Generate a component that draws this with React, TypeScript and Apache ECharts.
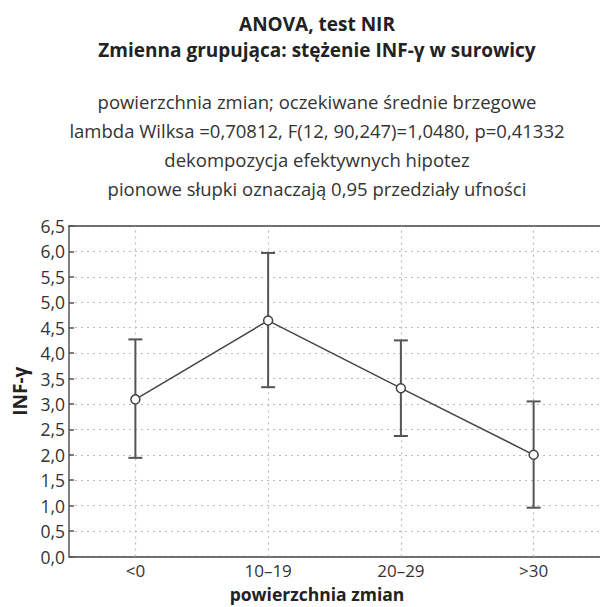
import React, { useEffect, useRef } from "react";
import * as echarts from "echarts";

const categories = ["<0", "10–19", "20–29", ">30"];
const means = [3.09, 4.64, 3.31, 2.0];
const lower = [1.94, 3.33, 2.37, 0.96];
const upper = [4.27, 5.97, 4.25, 3.05];

const titleLines = ["ANOVA, test NIR", "Zmienna grupująca: stężenie INF-γ w surowicy"];
const subtitleLines = [
  "powierzchnia zmian; oczekiwane średnie brzegowe",
  "lambda Wilksa =0,70812, F(12, 90,247)=1,0480, p=0,41332",
  "dekompozycja efektywnych hipotez",
  "pionowe słupki oznaczają 0,95 przedziały ufności",
];
const xAxisName = "powierzchnia zmian";
const yAxisName = "INF-γ";

const FONT = "'Open Sans', 'DejaVu Sans', sans-serif";

export default function App() {
  const ref = useRef<HTMLDivElement>(null);
  useEffect(() => {
    if (!ref.current) return;
    const chart = echarts.init(ref.current, undefined, { renderer: "svg" });
    const errData = lower.map((l, i) => [i, l, upper[i]]);
    chart.setOption({
      animation: false,
      backgroundColor: "#fff",
      textStyle: { fontFamily: FONT },
      title: [
        {
          text: titleLines.join("\n"),
          left: 312,
          top: 6,
          textAlign: "center",
          textStyle: { fontFamily: FONT, fontSize: 19, fontWeight: "bold", color: "#222", lineHeight: 26 },
        },
        {
          text: subtitleLines.join("\n"),
          left: 312,
          top: 82,
          textAlign: "center",
          textStyle: { fontFamily: FONT, fontSize: 18.5, fontWeight: "normal", color: "#333", lineHeight: 29 },
        },
        {
          text: xAxisName,
          left: 317,
          top: 584,
          padding: 0,
          textAlign: "center",
          textStyle: { fontFamily: FONT, fontSize: 17.5, fontWeight: "bold", color: "#222", lineHeight: 20 },
        },
      ],
      grid: { left: 69, top: 226, width: 538, height: 330.5, containLabel: false },
      xAxis: [
        {
          type: "category",
          data: categories,
          position: "bottom",
          boundaryGap: true,
          axisLine: { lineStyle: { color: "#444", width: 1.5 } },
          axisTick: { inside: true, alignWithLabel: true, length: 5, lineStyle: { color: "#444", width: 1.5 } },
          axisLabel: { color: "#333", fontSize: 17, fontFamily: FONT, margin: 5, lineHeight: 18 },
          splitLine: { show: false },
        },
        {
          type: "category",
          data: categories,
          position: "top",
          boundaryGap: true,
          axisLine: { lineStyle: { color: "#444", width: 1.5 } },
          axisTick: { inside: true, alignWithLabel: true, length: 5, lineStyle: { color: "#444", width: 1.5 } },
          axisLabel: { show: false },
          splitLine: { show: false },
        },
      ],
      yAxis: {
        type: "value",
        min: 0,
        max: 6.5,
        interval: 0.5,
        name: yAxisName,
        nameLocation: "middle",
        nameGap: 40,
        nameTextStyle: { fontFamily: FONT, fontSize: 19, fontWeight: "bold", color: "#222" },
        axisLine: { show: true, lineStyle: { color: "#555", width: 1.5 } },
        axisTick: { show: true, inside: true, length: 5, lineStyle: { color: "#555", width: 1.5 } },
        axisLabel: {
          color: "#333",
          fontSize: 17.5,
          fontFamily: FONT,
          margin: 4,
          formatter: (v: number) => v.toFixed(1).replace(".", ","),
        },
        splitLine: { show: true, lineStyle: { color: "#bbb", type: [2, 4], width: 1.2 } },
      },
      series: [
        {
          type: "custom",
          xAxisIndex: 0,
          z: 3,
          data: errData,
          encode: { x: 0, y: [1, 2] },
          renderItem: (params: any, api: any) => {
            const lo = api.coord([api.value(0), api.value(1)]);
            const hi = api.coord([api.value(0), api.value(2)]);
            const w = 7;
            const style = { stroke: "#555", lineWidth: 2 };
            return {
              type: "group",
              children: [
                { type: "line", shape: { x1: lo[0], y1: lo[1], x2: hi[0], y2: hi[1] }, style },
                { type: "line", shape: { x1: lo[0] - w, y1: lo[1], x2: lo[0] + w, y2: lo[1] }, style },
                { type: "line", shape: { x1: hi[0] - w, y1: hi[1], x2: hi[0] + w, y2: hi[1] }, style },
              ],
            };
          },
        },
        {
          type: "line",
          xAxisIndex: 0,
          z: 5,
          data: means,
          symbol: "circle",
          symbolSize: 9,
          lineStyle: { color: "#444", width: 1.5 },
          itemStyle: { color: "#fff", borderColor: "#444", borderWidth: 1.5 },
          markLine: {
            silent: true,
            symbol: "none",
            z: 1,
            label: { show: false },
            lineStyle: { color: "#bbb", type: [2, 4], width: 1.2 },
            data: categories.map((c) => ({ xAxis: c })),
          },
        },
      ],
    });
    return () => chart.dispose();
  }, []);
  return (
    <div
      ref={ref}
      style={{ position: "absolute", left: 0, top: 0, width: 600, height: 607 }}
    />
  );
}
